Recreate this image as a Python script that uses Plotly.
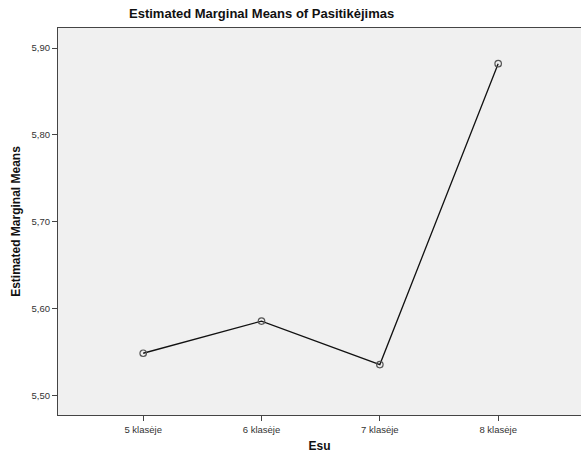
import plotly.graph_objects as go

categories = ["5 klasėje", "6 klasėje", "7 klasėje", "8 klasėje"]
means = [5.549, 5.586, 5.536, 5.882]
y_ticks = [5.50, 5.60, 5.70, 5.80, 5.90]
y_tick_labels = ["5,50", "5,60", "5,70", "5,80", "5,90"]

fig = go.Figure()
fig.add_trace(go.Scatter(
    x=list(range(len(categories))), y=means, mode="lines+markers",
    line=dict(color="#111111", width=1.3),
    marker=dict(symbol="circle-open", size=6.5, color="#555555", line=dict(width=1.2, color="#555555")),
    showlegend=False, hoverinfo="skip",
))

fig.update_layout(
    width=581, height=464,
    margin=dict(l=58, r=0, t=28, b=49),
    paper_bgcolor="white", plot_bgcolor="#F0F0F0",
    font=dict(family="Liberation Sans, Arial, sans-serif", color="#222222"),
    annotations=[
        dict(text="<b>Estimated Marginal Means of Pasitikėjimas</b>", xref="paper", yref="paper",
             x=0.39, y=1, yshift=5, xanchor="center", yanchor="bottom", showarrow=False,
             font=dict(size=13, color="#111111")),
    ],
)
fig.update_xaxes(
    range=[-0.72, 3.70], tickmode="array", tickvals=list(range(len(categories))), ticktext=categories,
    showgrid=False, zeroline=False, showline=True, linecolor="#444444", linewidth=1.2, mirror=True,
    ticks="outside", ticklen=5, tickcolor="#444444", tickfont=dict(size=9.5, color="#333333"),
    title=dict(text="<b>Esu</b>", font=dict(size=12, color="#111111"), standoff=8),
    automargin=False,
)
fig.update_yaxes(
    range=[5.478, 5.923], tickmode="array", tickvals=y_ticks, ticktext=y_tick_labels,
    showgrid=False, zeroline=False, showline=True, linecolor="#444444", linewidth=1.2,
    ticks="outside", ticklen=5, tickcolor="#444444", tickfont=dict(size=9.5, color="#333333"),
    title=dict(text="<b>Estimated Marginal Means</b>", font=dict(size=12, color="#111111"), standoff=8),
    automargin=False,
)

fig.write_html(
    "out.html",
    config={"displayModeBar": False},
    post_script="document.body.style.margin='0';document.body.style.overflow='hidden';",
)
